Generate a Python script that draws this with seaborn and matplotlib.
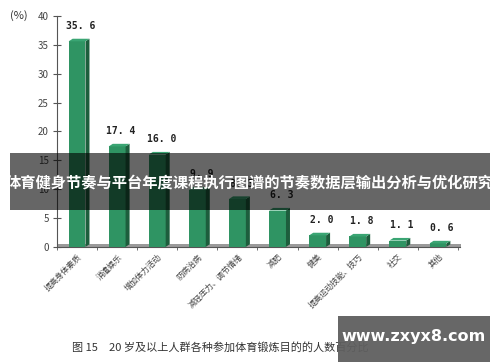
import numpy as np
import pandas as pd
import seaborn as sns
import matplotlib
matplotlib.use("Agg")
from matplotlib import pyplot as plt
from matplotlib.patches import Polygon, Rectangle

# purposes of exercise, % of people aged 20+
categories = ["提高身体素质", "消遣娱乐", "增加体力活动", "防病治病", "减轻压力、调节情绪",
              "减肥", "健美", "提高运动技能、技巧", "社交", "其他"]
values = [35.6, 17.4, 16.0, 9.9, 8.3, 6.3, 2.0, 1.8, 1.1, 0.6]
yticks = [0, 5, 10, 15, 20, 25, 30, 35, 40]

sns.set_style("white")
plt.rcParams['font.family'] = ['Noto Sans CJK SC', 'DejaVu Sans']

df = pd.DataFrame({"purpose": categories, "pct": values})

fig = plt.figure(figsize=(5, 3.62), dpi=100)
ax = fig.add_axes([0.114, 0.318, 0.806, 0.638])

green = "#2f9463"
sns.barplot(data=df, x="purpose", y="pct", color=green, saturation=1,
            width=0.42, ax=ax, zorder=3)

# fake 3d: side face + top face on each bar
dx, dy = 0.1, 0.45
for p in ax.patches:
    x0, w, h = p.get_x(), p.get_width(), p.get_height()
    p.set_edgecolor("none")
    side = Polygon([[x0 + w, 0], [x0 + w + dx, dy], [x0 + w + dx, h + dy], [x0 + w, h]],
                   closed=True, facecolor="#1d5e3d", edgecolor="none", zorder=3)
    top = Polygon([[x0, h], [x0 + dx, h + dy], [x0 + w + dx, h + dy], [x0 + w, h]],
                  closed=True, facecolor="#3aa573", edgecolor="none", zorder=3)
    ax.add_patch(side)
    ax.add_patch(top)
    ax.text(x0 + w / 2 + dx, h + 1.8, f"{h:.1f}".replace(".", ". "), ha="center", va="bottom",
            fontsize=7, fontweight="bold", family="DejaVu Sans Mono", color="#222")

# floor
ax.fill_between([-0.5, len(values) - 0.5 + 0.1], [0, 0], [0.45, 0.45],
                color="#9a9a9a", zorder=2, linewidth=0)

ax.set_xlim(-0.5, len(values) - 0.45)
ax.set_ylim(0, 40)
ax.set_yticks(yticks)
ax.tick_params(axis="y", direction="inout", length=6, width=0.8, color="#555",
               labelsize=7, labelcolor="#444", pad=3, left=True)
ax.set_xticks(range(len(values)))
ax.set_xticklabels(categories, rotation=45, ha="right", rotation_mode="anchor",
                   fontsize=5.8, color="#444")
ax.set_xticks(np.arange(-0.5, len(values), 1), minor=True)
ax.tick_params(axis="x", which="major", length=0, pad=4)
ax.tick_params(axis="x", which="minor", direction="inout", length=4, color="#555", bottom=True)
ax.set_xlabel("")
ax.set_ylabel("")
for s in ["top", "right"]:
    ax.spines[s].set_visible(False)
ax.spines["left"].set_color("#555")
ax.spines["bottom"].set_color("#555")

fig.text(0.02, 0.956, "(%)", fontsize=8, va="center", ha="left", color="#333")

fig.text(0.144, 0.039, "图 15　20 岁及以上人群各种参加体育锻炼目的的人数百分比",
         fontsize=8, ha="left", va="center", color="#333")

# overlay banner
fig.patches.append(Rectangle((0.02, 0.42), 0.96, 0.157, transform=fig.transFigure,
                             facecolor="black", alpha=0.6, zorder=10, linewidth=0))
fig.text(0.5, 0.496, "体育健身节奏与平台年度课程执行图谱的节奏数据层输出分析与优化研究",
         fontsize=11, fontweight="bold", color="white", ha="center", va="center", zorder=11)

# watermark box
fig.patches.append(Rectangle((0.676, 0.0), 0.304, 0.127, transform=fig.transFigure,
                             facecolor="#5f5f5f", alpha=0.95, zorder=10, linewidth=0))
fig.text(0.828, 0.07, "www.zxyx8.com", fontsize=11.5, fontweight="bold",
         family="DejaVu Sans", color="white", ha="center", va="center", zorder=11)

fig.savefig("out.png", dpi=100)
